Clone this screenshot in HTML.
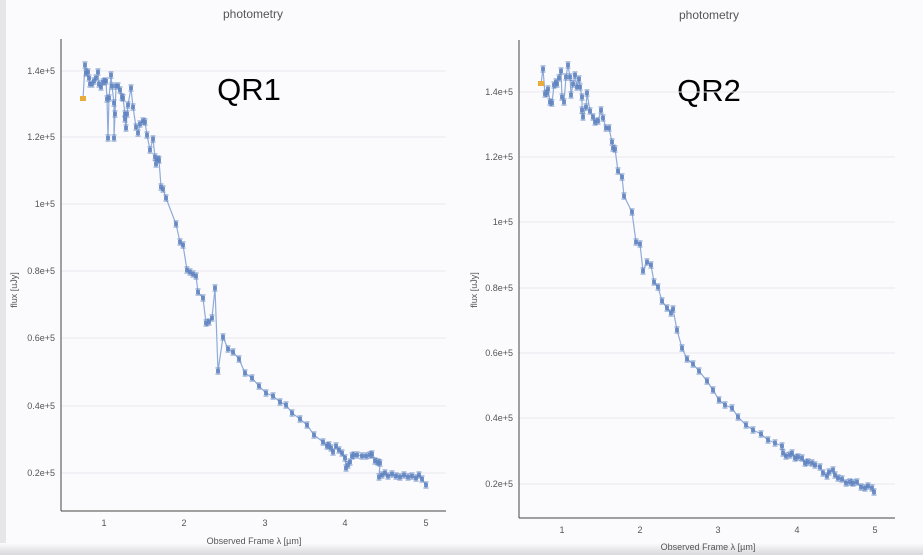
<!DOCTYPE html>
<html><head><meta charset="utf-8"><style>
html,body{margin:0;padding:0;background:#fbfbfd;}
svg{display:block;font-family:"Liberation Sans",sans-serif;}
</style></head><body>
<svg id="s" width="923" height="555" xmlns="http://www.w3.org/2000/svg">
<rect width="923" height="555" fill="#fbfbfd"/>
<rect x="0" y="0" width="6" height="555" fill="#e6e6e8"/>
<defs><linearGradient id="g" x1="0" y1="0" x2="0" y2="1"><stop offset="0" stop-color="#fbfbfd"/><stop offset="1" stop-color="#d8d8da"/></linearGradient></defs>
<rect x="0" y="543" width="923" height="12" fill="url(#g)"/>
<text x="253" y="18" font-size="12" fill="#555" text-anchor="middle">photometry</text>
<text x="709" y="19" font-size="12" fill="#555" text-anchor="middle">photometry</text>
<text x="249" y="100" font-size="31" fill="#000" text-anchor="middle">QR1</text>
<text x="709" y="101" font-size="31" fill="#000" text-anchor="middle">QR2</text>
<g id="a1" stroke="#ececf0" stroke-width="1"></g>
<text transform="translate(17,290) rotate(-90)" font-size="9" fill="#555" text-anchor="middle">flux [uJy]</text>
<text transform="translate(477,290) rotate(-90)" font-size="9" fill="#555" text-anchor="middle">flux [uJy]</text>
<text x="254" y="544" font-size="9" fill="#555" text-anchor="middle">Observed Frame λ [µm]</text>
<text x="708" y="550" font-size="9" fill="#555" text-anchor="middle">Observed Frame λ [µm]</text>
</svg>
<script>
var s=document.getElementById('s'),NS='http://www.w3.org/2000/svg';
function el(t,a,txt){var e=document.createElementNS(NS,t);for(var k in a)e.setAttribute(k,a[k]);if(txt)e.textContent=txt;s.appendChild(e);return e;}
function axes(x0,x1,y0,y1,ys,xs){
 ys.forEach(function(p){el('line',{x1:x0,x2:x1,y1:p[0],y2:p[0],stroke:'#eaeaee','stroke-width':1});
  el('text',{x:x0-6,y:p[0]+3,'font-size':9,fill:'#555','text-anchor':'end'},p[1]);});
 xs.forEach(function(p,i){el('text',{x:p,y:y1+15,'font-size':9,fill:'#555','text-anchor':'middle'},String(i+1));});
 el('line',{x1:x0,x2:x0,y1:y0,y2:y1,stroke:'#444','stroke-width':1});
 el('line',{x1:x0,x2:x1,y1:y1,y2:y1,stroke:'#444','stroke-width':1});
}
axes(61,446,39,511,[[71,'1.4e+5'],[137,'1.2e+5'],[204,'1e+5'],[271,'0.8e+5'],[338,'0.6e+5'],[406,'0.4e+5'],[473,'0.2e+5']],[104,184,265,345,426]);
axes(519,895,40,518,[[92,'1.4e+5'],[157,'1.2e+5'],[222,'1e+5'],[288,'0.8e+5'],[353,'0.6e+5'],[418,'0.4e+5'],[484,'0.2e+5']],[562,640,718,797,875]);
function series(pts,orange){
 var d=[orange].concat(pts).map(function(p){return p.join(',')}).join(' ');
 el('polyline',{points:d,fill:'none',stroke:'#8fabd8','stroke-width':1.2});
 el('rect',{x:orange[0]-3,y:orange[1]-3,width:6,height:5,fill:'#e8ac3a'});
 pts.forEach(function(p){var x=p[0],y=p[1];
  el('line',{x1:x,x2:x,y1:y-3,y2:y+3,stroke:'#6d8fc6','stroke-width':1});
  el('line',{x1:x-2.5,x2:x+2.5,y1:y-3,y2:y-3,stroke:'#6d8fc6','stroke-width':1});
  el('line',{x1:x-2.5,x2:x+2.5,y1:y+3,y2:y+3,stroke:'#6d8fc6','stroke-width':1});
  el('rect',{x:x-2,y:y-2,width:4,height:4,fill:'#5f82c0','fill-opacity':0.85});});
}
series([[85,65],[86,73],[88,72],[89,78],[90,84],[92,84],[94,81],[96,78],[98,72],[99,84],[101,87],[103,82],[105,81],[106,81],[107,99],[108,138],[109,98],[111,75],[112,86],[114,103],[114,138],[115,114],[116,86],[118,86],[120,90],[122,97],[123,98],[125,114],[125,119],[126,128],[127,114],[128,105],[131,88],[133,107],[136,127],[138,133],[140,124],[143,121],[145,122],[147,135],[150,150],[153,139],[155,157],[156,164],[157,160],[158,159],[159,160],[161,187],[163,189],[166,198],[176,224],[180,242],[183,245],[187,270],[190,272],[193,274],[196,276],[198,292],[203,298],[206,323],[209,322],[212,318],[215,288],[218,371],[223,337],[228,349],[233,352],[239,359],[245,373],[252,378],[259,386],[266,393],[273,396],[280,402],[286,405],[292,413],[300,419],[307,425],[314,435],[323,442],[327,446],[329,445],[331,448],[333,452],[336,446],[339,450],[342,453],[345,458],[346,468],[348,465],[350,462],[352,456],[354,455],[357,455],[362,456],[366,456],[370,455],[372,454],[375,461],[378,462],[380,463],[379,477],[382,475],[385,473],[388,476],[392,474],[396,476],[400,477],[404,475],[408,477],[412,476],[416,478],[419,475],[422,479],[426,485]],[83,99]);
series([[543,69],[545,94],[547,93],[548,89],[550,102],[552,103],[554,85],[556,82],[557,84],[559,78],[561,71],[562,97],[564,102],[566,77],[568,65],[570,77],[571,95],[573,84],[575,75],[577,87],[579,79],[580,87],[582,97],[582,110],[583,117],[586,107],[587,93],[590,111],[593,117],[595,122],[598,121],[601,110],[603,118],[606,128],[609,128],[612,142],[613,148],[615,149],[618,171],[622,177],[624,196],[632,212],[636,242],[640,244],[643,271],[647,262],[651,265],[654,282],[658,287],[662,301],[667,308],[671,313],[673,309],[677,330],[682,348],[687,359],[693,364],[699,371],[707,381],[713,390],[719,400],[725,405],[732,408],[738,417],[746,425],[753,430],[761,434],[768,440],[775,443],[782,446],[783,453],[786,456],[790,455],[792,453],[795,458],[798,457],[802,458],[805,463],[808,462],[812,463],[815,465],[820,467],[823,473],[827,476],[829,472],[833,470],[835,475],[838,478],[842,479],[846,483],[850,482],[853,483],[857,482],[861,487],[865,488],[868,486],[872,488],[874,492]],[541,84]);
</script>
</body></html>
